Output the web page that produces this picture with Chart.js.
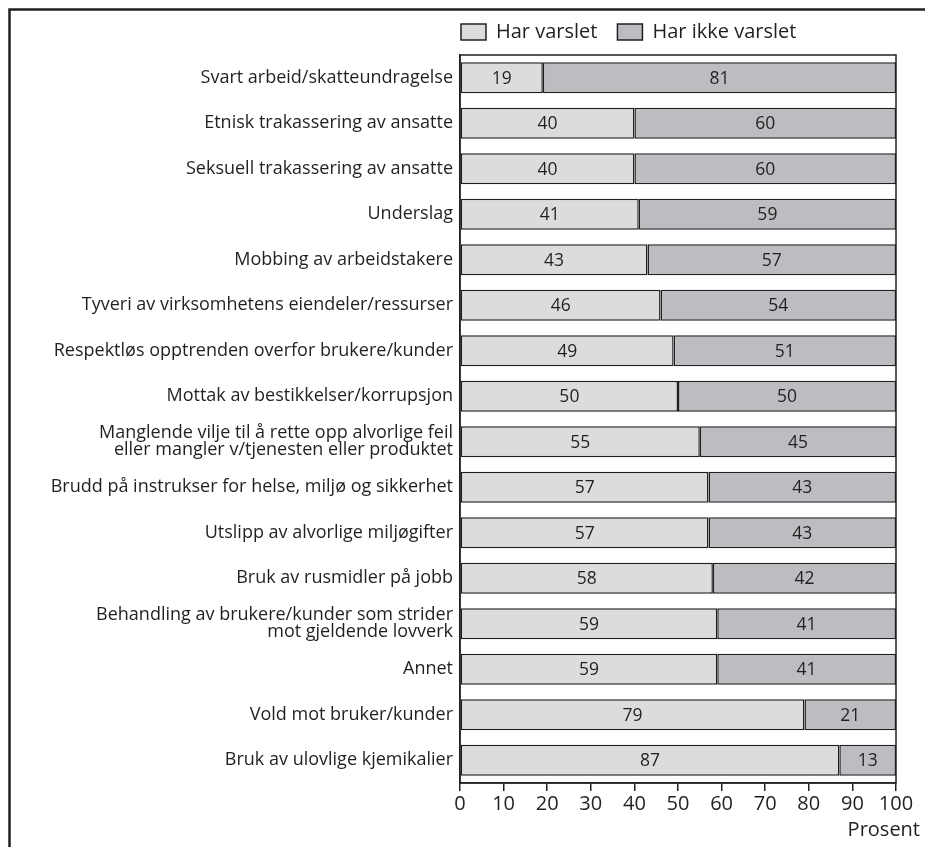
<!DOCTYPE html>
<html>
<head>
<meta charset="utf-8">
<script src="https://cdn.jsdelivr.net/npm/chart.js@4"></script>
<style>
  html, body { margin: 0; padding: 0; background: #fff; }
  #wrap { width: 925px; height: 847px; }
</style>
</head>
<body>
<div id="wrap"><canvas id="chart"></canvas></div>
<script>
const categories = [
  'Svart arbeid/skatteundragelse',
  'Etnisk trakassering av ansatte',
  'Seksuell trakassering av ansatte',
  'Underslag',
  'Mobbing av arbeidstakere',
  'Tyveri av virksomhetens eiendeler/ressurser',
  'Respektløs opptrenden overfor brukere/kunder',
  'Mottak av bestikkelser/korrupsjon',
  ['Manglende vilje til å rette opp alvorlige feil', 'eller mangler v/tjenesten eller produktet'],
  'Brudd på instrukser for helse, miljø og sikkerhet',
  'Utslipp av alvorlige miljøgifter',
  'Bruk av rusmidler på jobb',
  ['Behandling av brukere/kunder som strider', 'mot gjeldende lovverk'],
  'Annet',
  'Vold mot bruker/kunder',
  'Bruk av ulovlige kjemikalier'
];
const harVarslet = [19, 40, 40, 41, 43, 46, 49, 50, 55, 57, 57, 58, 59, 59, 79, 87];
const harIkkeVarslet = [81, 60, 60, 59, 57, 54, 51, 50, 45, 43, 43, 42, 41, 41, 21, 13];
const xTicks = [0, 10, 20, 30, 40, 50, 60, 70, 80, 90, 100];

const FONT = '"Open Sans", "Noto Sans", sans-serif';
const INK = '#231f20';

// frame round the whole figure plus the box round the plot
const framePlugin = {
  id: 'frame',
  afterLayout(chart) {
    // pull the legend to the left edge of the plot and up a little
    const lg = chart.legend;
    lg.left -= 19; lg.right -= 19;
    lg.top -= 3; lg.bottom -= 3;
  },
  beforeDraw(chart) {
    const ctx = chart.ctx;
    ctx.save();
    ctx.strokeStyle = INK;
    ctx.lineWidth = 2.5;
    ctx.beginPath();
    ctx.moveTo(9.5, 860);
    ctx.lineTo(9.5, 9.5);
    ctx.lineTo(940, 9.5);
    ctx.stroke();
    ctx.restore();
  },
  afterDatasetsDraw(chart) {
    const { ctx, chartArea: a } = chart;
    ctx.save();
    ctx.strokeStyle = INK;
    ctx.lineWidth = 1.5;
    ctx.strokeRect(a.left, a.top, a.right - a.left, a.bottom - a.top);
    ctx.restore();
  }
};

// value written in the middle of each segment
const valueLabels = {
  id: 'valueLabels',
  afterDatasetsDraw(chart) {
    const ctx = chart.ctx;
    ctx.save();
    ctx.font = '17.5px ' + FONT;
    ctx.fillStyle = INK;
    ctx.textAlign = 'center';
    ctx.textBaseline = 'middle';
    chart.data.datasets.forEach((ds, i) => {
      chart.getDatasetMeta(i).data.forEach((bar, j) => {
        const x = (bar.x + bar.base) / 2;
        ctx.fillText(String(ds.data[j]), x, bar.y + 1);
      });
    });
    ctx.restore();
  }
};

// unit under the x axis, right of the last tick
const unitLabel = {
  id: 'unitLabel',
  afterDraw(chart) {
    const ctx = chart.ctx;
    ctx.save();
    ctx.font = '20px ' + FONT;
    ctx.fillStyle = INK;
    ctx.textAlign = 'right';
    ctx.textBaseline = 'alphabetic';
    ctx.fillText('Prosent', 920, 836);
    ctx.restore();
  }
};

new Chart(document.getElementById('chart'), {
  type: 'bar',
  data: {
    labels: categories,
    datasets: [
      {
        label: 'Har varslet',
        data: harVarslet,
        backgroundColor: '#dcdcdd',
        borderColor: INK,
        borderWidth: 1.5,
        borderSkipped: false,
        barPercentage: 0.68,
        categoryPercentage: 1
      },
      {
        label: 'Har ikke varslet',
        data: harIkkeVarslet,
        backgroundColor: '#bcbdc0',
        borderColor: INK,
        borderWidth: 1.5,
        borderSkipped: false,
        barPercentage: 0.68,
        categoryPercentage: 1
      }
    ]
  },
  options: {
    indexAxis: 'y',
    responsive: true,
    maintainAspectRatio: false,
    animation: false,
    layout: { padding: { left: 0, right: 29, top: 5, bottom: 0 } },
    plugins: {
      tooltip: { enabled: false },
      legend: {
        position: 'top',
        align: 'start',
        fullSize: false,
        labels: {
          color: INK,
          font: { family: FONT, size: 20 },
          boxWidth: 25,
          boxHeight: 16,
          padding: 20,
          generateLabels(chart) {
            return chart.data.datasets.map((ds, i) => ({
              text: ds.label,
              fillStyle: ds.backgroundColor,
              strokeStyle: INK,
              lineWidth: 1.5,
              datasetIndex: i,
              fontColor: INK
            }));
          }
        }
      }
    },
    scales: {
      x: {
        stacked: true,
        min: 0,
        max: 100,
        afterBuildTicks(scale) {
          scale.ticks = xTicks.map(v => ({ value: v }));
        },
        afterFit(scale) { scale.height = 64; },
        grid: {
          drawOnChartArea: false,
          drawTicks: true,
          tickLength: 8,
          color: INK,
          lineWidth: 1.5
        },
        border: { color: INK, width: 1.5 },
        ticks: {
          color: INK,
          font: { family: FONT, size: 20 },
          padding: 1,
          maxRotation: 0
        }
      },
      y: {
        stacked: true,
        afterFit(scale) { scale.width = 460; },
        grid: { display: false, drawTicks: false },
        border: { color: INK, width: 1.5 },
        ticks: {
          color: INK,
          font: { family: FONT, size: 18, lineHeight: 0.95 },
          padding: 7,
          autoSkip: false
        }
      }
    }
  },
  plugins: [framePlugin, valueLabels, unitLabel]
});
</script>
</body>
</html>
